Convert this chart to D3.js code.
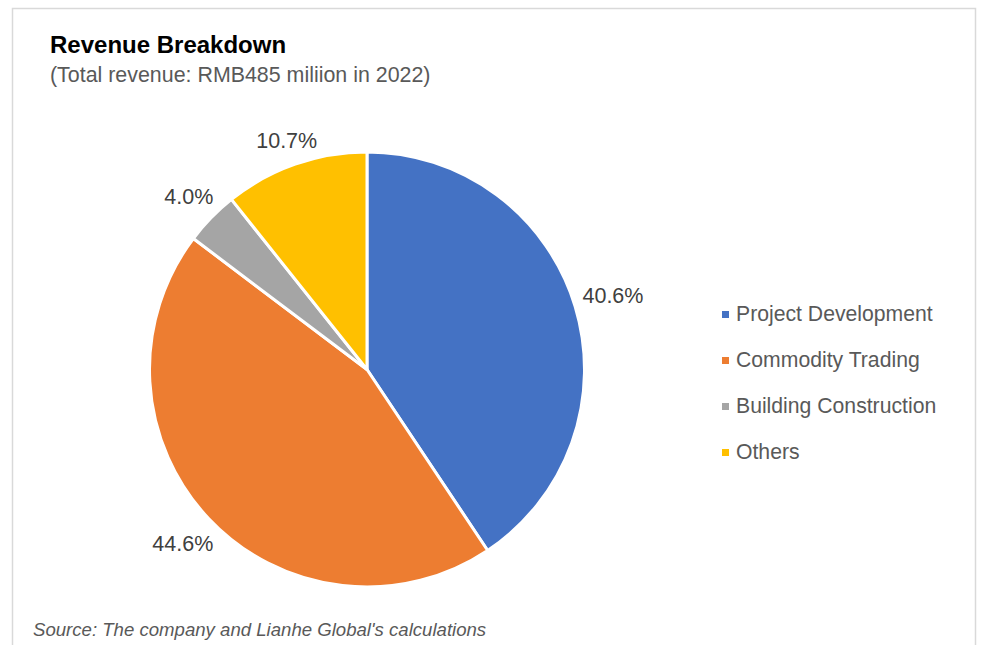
<!DOCTYPE html>
<html>
<head>
<meta charset="utf-8">
<script src="https://cdn.jsdelivr.net/npm/d3@7"></script>
<style>
  body { margin: 0; background: #fff; }
  svg { display: block; font-family: "Liberation Sans", Arial, sans-serif; }
</style>
</head>
<body>
<div id="chart"></div>
<script>
// data
var categories = ["Project Development", "Commodity Trading", "Building Construction", "Others"]
var shares = [40.6, 44.6, 4.0, 10.7]
var colors = ["#4472C4", "#ED7D31", "#A5A5A5", "#FFC000"]

var W = 982, H = 645
var cx = 367, cy = 369.5, R = 217.5

var svg = d3.select('#chart').append('svg')
  .attr('width', W)
  .attr('height', H)

// frame (bottom edge lies outside the picture)
svg.append('path')
  .attr('d', 'M12.5,' + (H + 5) + ' V8.5 H975.5 V' + (H + 5))
  .attr('fill', 'none')
  .attr('stroke', '#d9d9d9')
  .attr('stroke-width', 1.5)

// titles
svg.append('text')
  .attr('x', 50).attr('y', 53)
  .attr('font-size', 24).attr('font-weight', 'bold')
  .attr('fill', '#000')
  .text('Revenue Breakdown')

svg.append('text')
  .attr('x', 50).attr('y', 82)
  .attr('font-size', 21.4).attr('fill', '#595959')
  .text('(Total revenue: RMB485 miliion in 2022)')

// pie
var pie = d3.pie().sort(null).value(function(d) { return d })
var arcs = pie(shares)
var arc = d3.arc().innerRadius(0).outerRadius(R)

var g = svg.append('g').attr('transform', 'translate(' + cx + ',' + cy + ')')

g.selectAll('path.slice')
  .data(arcs)
  .enter().append('path')
  .attr('class', 'slice')
  .attr('d', arc)
  .attr('fill', function(d, i) { return colors[i] })
  .attr('stroke', '#fff')
  .attr('stroke-width', 3)
  .attr('stroke-linejoin', 'round')

// outside-end labels: push the text box out along the mid angle
var fmt = d3.format('.1f')
var labelSize = 21.5
g.selectAll('text.lbl')
  .data(arcs)
  .enter().append('text')
  .attr('class', 'lbl')
  .attr('font-size', labelSize)
  .attr('fill', '#404040')
  .attr('text-anchor', 'middle')
  .text(function(d) { return fmt(d.data) + '%' })
  .each(function(d) {
    var a = (d.startAngle + d.endAngle) / 2
    var s = Math.sin(a), c = Math.cos(a)
    var bw = this.getComputedTextLength()
    var bh = labelSize * 0.75
    var r = R + 8 + Math.abs(s) * bw / 2 + Math.abs(c) * bh / 2
    d3.select(this)
      .attr('x', r * s)
      .attr('y', -r * c + bh / 2)
  })

// legend
var legend = svg.append('g').attr('transform', 'translate(722,0)')
var rows = legend.selectAll('g')
  .data(categories)
  .enter().append('g')
  .attr('transform', function(d, i) { return 'translate(0,' + (321 + i * 46) + ')' })

rows.append('rect')
  .attr('x', 0).attr('y', -10)
  .attr('width', 7).attr('height', 7)
  .attr('fill', function(d, i) { return colors[i] })

rows.append('text')
  .attr('x', 14).attr('y', 0)
  .attr('font-size', 21.2).attr('fill', '#595959')
  .text(function(d) { return d })

// source note
svg.append('text')
  .attr('x', 33).attr('y', 636)
  .attr('font-size', 18.6).attr('font-style', 'italic')
  .attr('fill', '#595959')
  .text("Source: The company and Lianhe Global's calculations")
</script>
</body>
</html>
